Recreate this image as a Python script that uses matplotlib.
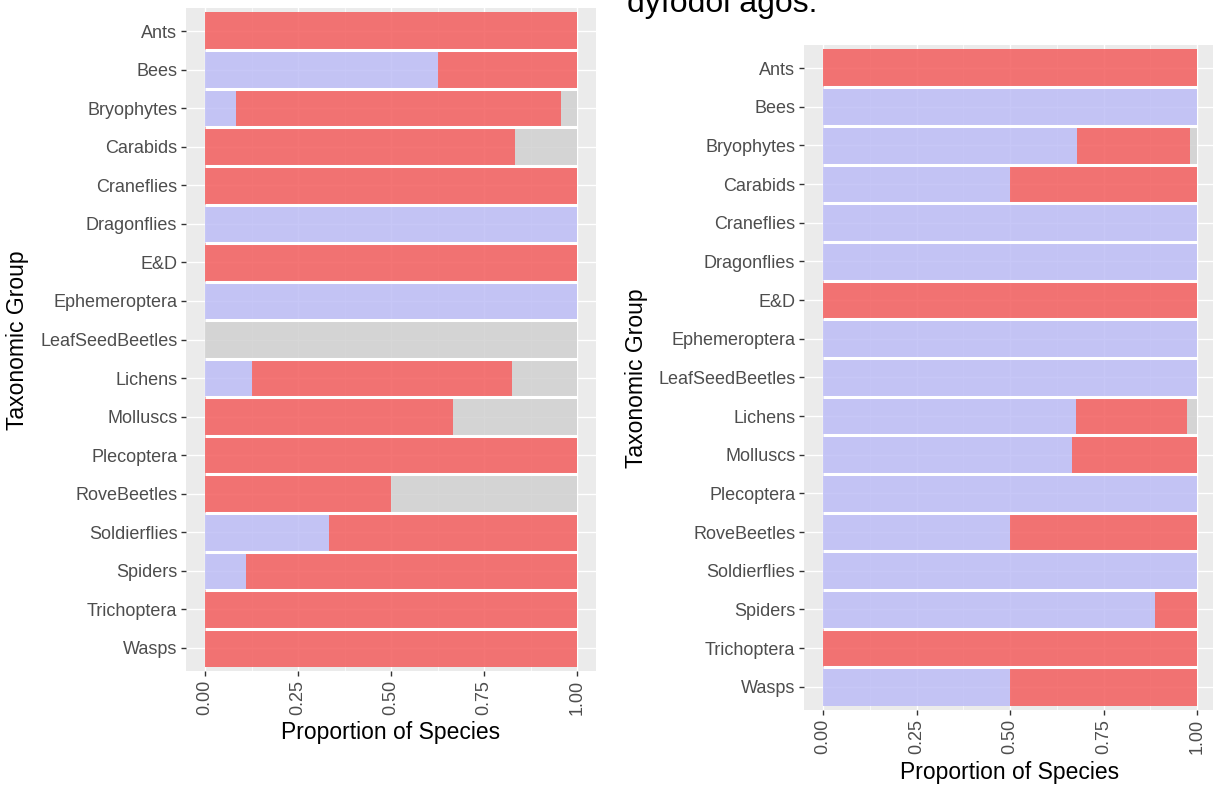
import numpy as np
import matplotlib
matplotlib.use("Agg")
import matplotlib.pyplot as plt
from matplotlib.colors import to_rgba

plt.rcParams['font.family'] = ['Liberation Sans', 'DejaVu Sans']

groups = ['Ants', 'Bees', 'Bryophytes', 'Carabids', 'Craneflies', 'Dragonflies',
          'E&D', 'Ephemeroptera', 'LeafSeedBeetles', 'Lichens', 'Molluscs',
          'Plecoptera', 'RoveBeetles', 'Soldierflies', 'Spiders', 'Trichoptera', 'Wasps']

# proportions per group: blue / red / grey segments
left_blue = [0, 0.625, 0.083, 0, 0, 1, 0, 1, 0, 0.125, 0, 0, 0, 0.333, 0.111, 0, 0]
left_red = [1, 0.375, 0.875, 0.833, 1, 0, 1, 0, 0, 0.70, 0.667, 1, 0.5, 0.667, 0.889, 1, 1]
left_grey = [0, 0, 0.042, 0.167, 0, 0, 0, 0, 1, 0.175, 0.333, 0, 0.5, 0, 0, 0, 0]

right_blue = [0, 1, 0.68, 0.5, 1, 1, 0, 1, 1, 0.676, 0.667, 1, 0.5, 1, 0.889, 0, 0.5]
right_red = [1, 0, 0.30, 0.5, 0, 0, 1, 0, 0, 0.297, 0.333, 0, 0.5, 0, 0.111, 1, 0.5]
right_grey = [0, 0, 0.02, 0, 0, 0, 0, 0, 0, 0.027, 0, 0, 0, 0, 0, 0, 0]

xticks = [0, 0.25, 0.5, 0.75, 1.0]
xticklabels = ['0.00', '0.25', '0.50', '0.75', '1.00']

fill_blue = to_rgba((189/255, 189/255, 246/255), 0.85)
fill_red = to_rgba((243/255, 93/255, 93/255), 0.85)
fill_grey = to_rgba((208/255, 208/255, 208/255), 0.85)

W, H = 1213, 785
fig = plt.figure(figsize=(W/100, H/100), dpi=100)


def panel(rect, blue, red, grey):
    ax = fig.add_axes(rect)
    ax.set_facecolor('#EBEBEB')
    y = np.arange(len(groups))
    blue = np.array(blue)
    red = np.array(red)
    grey = np.array(grey)
    total = blue + red + grey
    ax.barh(y, blue, height=1.0, color=fill_blue, linewidth=0, zorder=2)
    ax.barh(y, red, left=blue, height=1.0, color=fill_red, linewidth=0, zorder=2)
    ax.barh(y, grey, left=blue + red, height=1.0, color=fill_grey, linewidth=0, zorder=2)
    # white separators between the stacked bars
    ax.hlines(y[:-1] + 0.5, 0, np.maximum(total[:-1], total[1:]),
              colors='white', linewidth=2.2, zorder=3)
    ax.set_xlim(-0.05, 1.05)
    ax.set_ylim(len(groups) - 0.4, -0.6)
    ax.set_yticks(y)
    ax.set_yticklabels(groups)
    ax.set_xticks(xticks)
    ax.set_xticklabels(xticklabels)
    ax.set_xticks([0.125, 0.375, 0.625, 0.875], minor=True)
    ax.grid(True, which='major', color='white', linewidth=1.0, zorder=1)
    ax.grid(True, which='minor', axis='x', color='white', linewidth=0.5, zorder=1)
    ax.set_axisbelow(True)
    ax.tick_params(axis='both', which='major', length=3.5, width=1.0, color='#333333',
                   labelsize=13, labelcolor='#4D4D4D', pad=3)
    ax.tick_params(axis='x', which='major', labelrotation=90)
    ax.tick_params(which='minor', length=0)
    for s in ax.spines.values():
        s.set_visible(False)
    return ax


ax1 = panel([186.4/W, 1 - 671/H, 409.2/W, 663/H], left_blue, left_red, left_grey)
ax2 = panel([804.3/W, 1 - 710/H, 411.4/W, 665.2/H], right_blue, right_red, right_grey)

fig.text(18/W, 1 - 340/H, 'Taxonomic Group', rotation=90, ha='center', va='center',
         fontsize=16.5, color='black')
fig.text(391/W, 1 - 733/H, 'Proportion of Species', ha='center', va='center',
         fontsize=16.5, color='black')
fig.text(637/W, 1 - 378/H, 'Taxonomic Group', rotation=90, ha='center', va='center',
         fontsize=16.5, color='black')
fig.text(1010/W, 1 - 773/H, 'Proportion of Species', ha='center', va='center',
         fontsize=16.5, color='black')

fig.text(627/W, 1 - 12/H, 'dyfodol agos.', ha='left', va='baseline', fontsize=23, color='black')

fig.savefig('out.png', dpi=100, facecolor='white')
